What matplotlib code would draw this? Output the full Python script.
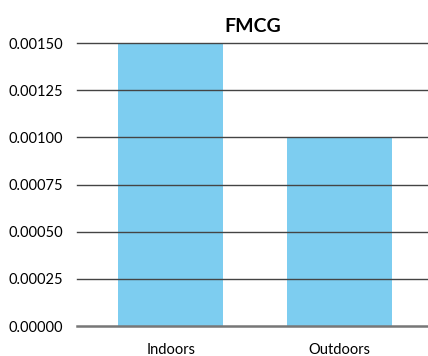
import matplotlib.pyplot as plt

categories = ["Indoors", "Outdoors"]
values = [0.0015, 0.0010]
yticks = [0.0, 0.00025, 0.0005, 0.00075, 0.001, 0.00125, 0.0015]

plt.rcParams["font.family"] = ["Lato", "DejaVu Sans"]

fig = plt.figure(figsize=(4.28, 3.56), dpi=100)
ax = fig.add_axes([0.180, 0.084, 0.82, 0.795])

x = list(range(len(categories)))
ax.bar(x, values, width=0.62, color="#7dcdf0", zorder=1)

ax.set_xlim(-0.555, 1.525)
ax.set_ylim(0, 0.0015)
ax.set_yticks(yticks)
ax.set_yticklabels([f"{v:.5f}" for v in yticks], fontsize=10.5)
ax.set_xticks(x)
ax.set_xticklabels(categories, fontsize=10.5)

for v in yticks:
    lw = 1.8 if v == 0 else 1.0
    col = "#777777" if v == 0 else "#444444"
    ax.axhline(v, color=col, linewidth=lw, zorder=2, clip_on=False)

for s in ax.spines.values():
    s.set_visible(False)
ax.tick_params(axis="both", length=0)
ax.tick_params(axis="y", pad=10)
ax.tick_params(axis="x", pad=12)

ax.set_title("FMCG", fontsize=14, fontweight="bold", pad=8)

fig.savefig("out.png", dpi=100)
